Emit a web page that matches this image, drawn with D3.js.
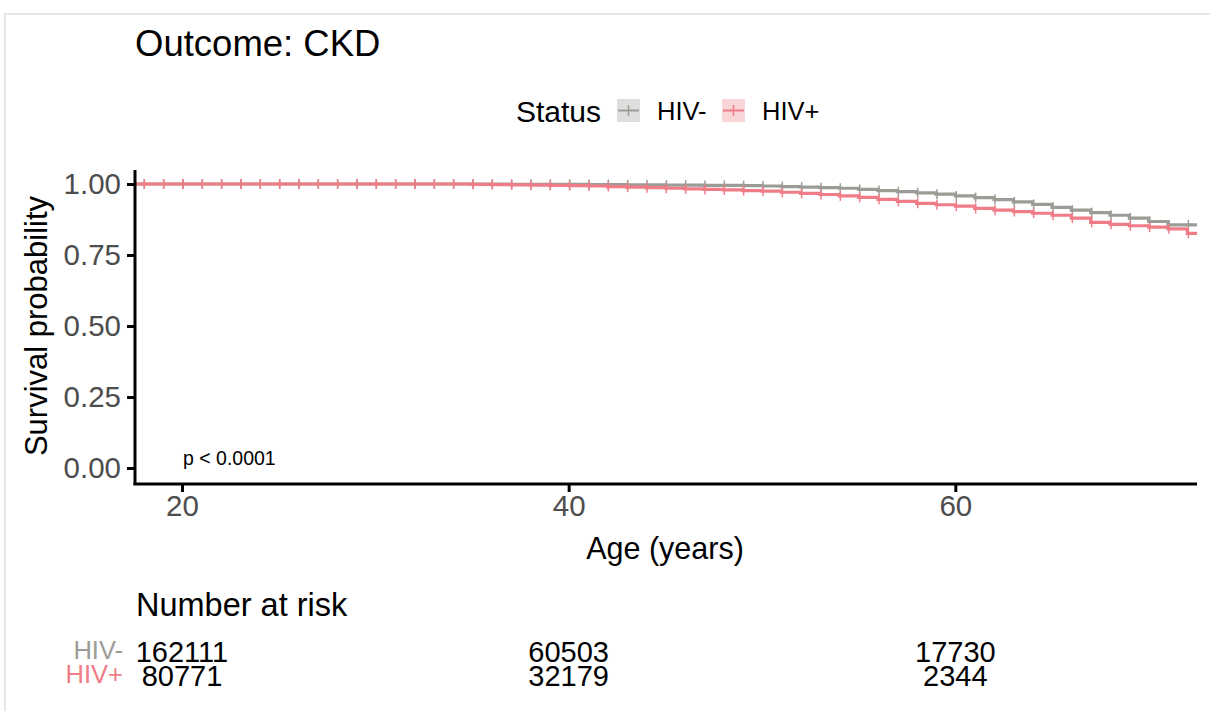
<!DOCTYPE html>
<html>
<head>
<meta charset="utf-8">
<script src="https://cdn.jsdelivr.net/npm/d3@7"></script>
<style>
  html, body { margin: 0; padding: 0; background: #fff; }
  svg { display: block; font-family: "Liberation Sans", Arial, sans-serif; }
</style>
</head>
<body>
<svg id="chart" width="1210" height="711"></svg>
<script>
// Kaplan-Meier estimates, one value per year of age (value holds from that age on)
const ages = d3.range(18, 73);
const survNeg = [
  1.000, 1.000, 1.000, 1.000, 1.000, 1.000, 1.000, 1.000, 1.000, 1.000,
  1.000, 1.000, 1.000, 1.000, 1.000, 1.000, 1.000, 1.000, 1.000, 0.999,
  0.999, 0.999, 0.999, 0.998, 0.998, 0.997, 0.997, 0.996, 0.996, 0.995,
  0.995, 0.994, 0.993, 0.991, 0.989, 0.987, 0.985, 0.981, 0.977, 0.973,
  0.969, 0.964, 0.958, 0.952, 0.945, 0.937, 0.928, 0.918, 0.908, 0.899,
  0.890, 0.880, 0.868, 0.856, 0.856
];
const survPos = [
  1.000, 1.000, 1.000, 1.000, 1.000, 1.000, 1.000, 1.000, 1.000, 1.000,
  1.000, 1.000, 1.000, 1.000, 1.000, 1.000, 1.000, 0.999, 0.998, 0.997,
  0.996, 0.995, 0.994, 0.993, 0.991, 0.989, 0.987, 0.985, 0.983, 0.981,
  0.979, 0.977, 0.975, 0.971, 0.967, 0.963, 0.958, 0.953, 0.946, 0.939,
  0.932, 0.927, 0.922, 0.914, 0.908, 0.903, 0.897, 0.890, 0.880, 0.865,
  0.858, 0.853, 0.848, 0.842, 0.826
];
const groups = ["HIV-", "HIV+"];
const groupColors = ["#9c9c96", "#f07c87"];
const keyFills = ["#dedede", "#f9d5d8"];
const xTicks = [20, 40, 60];
const yTicks = [0, 0.25, 0.5, 0.75, 1];
const riskNeg = [162111, 60503, 17730];
const riskPos = [80771, 32179, 2344];
const pLabel = "p < 0.0001";

const svg = d3.select("#chart");

// thin frame around the figure
svg.append("rect").attr("x", 5).attr("y", 14).attr("width", 1215).attr("height", 720)
  .attr("fill", "none").attr("stroke", "#e6e6e6").attr("stroke-width", 2);

const x = d3.scaleLinear().domain([17.57, 72.5]).range([135, 1197]);
const y = d3.scaleLinear().domain([0, 1]).range([468, 184]);

// title
svg.append("text").attr("x", 135).attr("y", 56).attr("font-size", 36.5).attr("fill", "#000")
  .text("Outcome: CKD");

// legend
const lg = svg.append("g");
lg.append("text").attr("x", 516).attr("y", 122).attr("font-size", 30).attr("fill", "#000").text("Status");
const keyX = [617, 722];
groups.forEach((g, i) => {
  lg.append("rect").attr("x", keyX[i]).attr("y", 99).attr("width", 23).attr("height", 23)
    .attr("fill", keyFills[i]);
  lg.append("line").attr("x1", keyX[i] + 1).attr("x2", keyX[i] + 22).attr("y1", 110.5).attr("y2", 110.5)
    .attr("stroke", groupColors[i]).attr("stroke-width", 2);
  lg.append("line").attr("x1", keyX[i] + 11.5).attr("x2", keyX[i] + 11.5).attr("y1", 105).attr("y2", 116)
    .attr("stroke", groupColors[i]).attr("stroke-width", 1.5);
  lg.append("text").attr("x", keyX[i] + 40).attr("y", 120).attr("font-size", 25.5).attr("fill", "#000").text(g);
});

// survival step curves
const series = [survNeg, survPos];
const plot = svg.append("g");
plot.append("defs").append("clipPath").attr("id", "clip")
  .append("rect").attr("x", 135).attr("y", 150).attr("width", 1062).attr("height", 334);

series.forEach((vals, i) => {
  const pts = [[x.domain()[0], vals[0]]].concat(ages.map((a, j) => [a, vals[j]]));
  pts.push([x.domain()[1], vals[vals.length - 1]]);
  const line = d3.line().x(d => x(d[0])).y(d => y(d[1])).curve(d3.curveStepAfter);
  plot.append("path").datum(pts).attr("d", line).attr("fill", "none")
    .attr("stroke", groupColors[i]).attr("stroke-width", 3.2).attr("clip-path", "url(#clip)");
  // censoring marks
  plot.append("g").selectAll("line").data(ages).join("line")
    .attr("x1", a => x(a) + 1).attr("x2", a => x(a) + 1)
    .attr("y1", (a, j) => y(vals[j]) - 5).attr("y2", (a, j) => y(vals[j]) + 5)
    .attr("stroke", groupColors[i]).attr("stroke-width", 1.5);
});

// axes
const axisColor = "#000";
const ya = svg.append("g").attr("transform", "translate(135,0)")
  .call(d3.axisLeft(y).tickValues(yTicks).tickFormat(d3.format(".2f")).tickSize(8).tickSizeOuter(0));
ya.select(".domain").attr("d", "M0,170V485").attr("stroke", axisColor).attr("stroke-width", 3);
ya.selectAll(".tick line").attr("stroke", axisColor).attr("stroke-width", 3);
ya.selectAll(".tick text").attr("font-size", 29.5).attr("fill", "#4d4d4d").attr("x", -14)
  .attr("font-family", "Liberation Sans, Arial, sans-serif");

const xa = svg.append("g").attr("transform", "translate(0,484)")
  .call(d3.axisBottom(x).tickValues(xTicks).tickSize(8).tickSizeOuter(0));
xa.select(".domain").attr("d", "M133.5,0H1197").attr("stroke", axisColor).attr("stroke-width", 3);
xa.selectAll(".tick line").attr("stroke", axisColor).attr("stroke-width", 3);
xa.selectAll(".tick text").attr("font-size", 29.5).attr("fill", "#4d4d4d").attr("y", 11)
  .attr("font-family", "Liberation Sans, Arial, sans-serif");

svg.append("text").attr("x", 665).attr("y", 559).attr("text-anchor", "middle")
  .attr("font-size", 30.5).attr("fill", "#000").text("Age (years)");
svg.append("text").attr("transform", "translate(47,326) rotate(-90)").attr("text-anchor", "middle")
  .attr("font-size", 31).attr("fill", "#000").text("Survival probability");

svg.append("text").attr("x", 183).attr("y", 465).attr("font-size", 19.5).attr("fill", "#000").text(pLabel);

// number at risk table
svg.append("text").attr("x", 136).attr("y", 616).attr("font-size", 32.5).attr("fill", "#000").text("Number at risk");
const riskRows = [riskNeg, riskPos];
const rowY = [662, 686];
riskRows.forEach((row, i) => {
  svg.append("g").selectAll("text").data(row).join("text")
    .attr("x", (d, j) => x(xTicks[j])).attr("y", rowY[i]).attr("text-anchor", "middle")
    .attr("font-size", 29).attr("fill", "#000").text(d => d);
  svg.append("text").attr("x", 123).attr("y", rowY[i] - 3).attr("text-anchor", "end")
    .attr("font-size", 25.5).attr("fill", groupColors[i]).text(groups[i]);
});
</script>
</body>
</html>
